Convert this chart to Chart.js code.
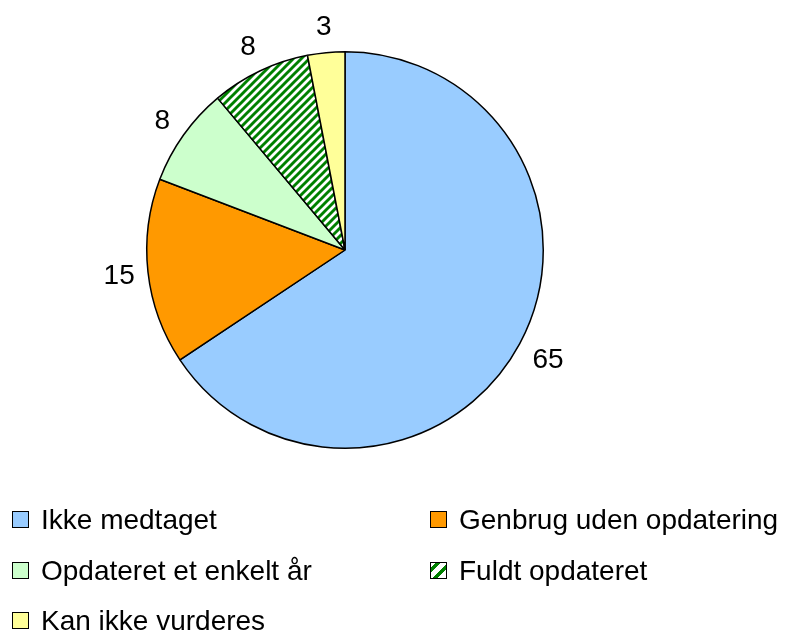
<!DOCTYPE html>
<html>
<head>
<meta charset="utf-8">
<script src="https://cdn.jsdelivr.net/npm/chart.js@4"></script>
<style>
  html, body { margin: 0; padding: 0; background: #fff; }
  #wrap { position: relative; width: 795px; height: 630px; }
  #legend { position: absolute; left: 0; top: 0; width: 795px; height: 630px; pointer-events: none;
            font: 28px "Liberation Sans", Arial, sans-serif; color: #000; }
  .box { position: absolute; width: 15px; height: 15px; border: 1.5px solid #000; }
  .lbl { position: absolute; line-height: 28px; white-space: nowrap; }
</style>
</head>
<body>
<div id="wrap">
  <canvas id="pie"></canvas>
  <div id="legend"></div>
</div>
<script>
const categories = ['Ikke medtaget', 'Genbrug uden opdatering', 'Opdateret et enkelt år', 'Fuldt opdateret', 'Kan ikke vurderes'];
const values     = [65, 15, 8, 8, 3];
const colors     = ['#99CCFF', '#FF9900', '#CCFFCC', 'stripes', '#FFFF99'];

const STRIPE_GREEN = '#008000';

function stripePattern() {
  const s = 8;
  const c = document.createElement('canvas');
  c.width = s; c.height = s;
  const g = c.getContext('2d');
  g.fillStyle = '#fff';
  g.fillRect(0, 0, s, s);
  g.strokeStyle = STRIPE_GREEN;
  g.lineWidth = 2.9;
  g.beginPath();
  g.moveTo(-2, s + 2); g.lineTo(s + 2, -2);
  g.moveTo(-2, 2); g.lineTo(2, -2);
  g.moveTo(s - 2, s + 2); g.lineTo(s + 2, s - 2);
  g.stroke();
  return g.createPattern(c, 'repeat');
}

const ctx = document.getElementById('pie');
const fills = colors.map(c => c === 'stripes' ? stripePattern() : c);

// value labels outside the slices, pushed out by the text box size
const outsideLabels = {
  id: 'outsideLabels',
  afterDatasetsDraw(chart) {
    const g = chart.ctx;
    const meta = chart.getDatasetMeta(0);
    g.save();
    g.font = '28px "Liberation Sans", Arial, sans-serif';
    g.fillStyle = '#000';
    g.textAlign = 'center';
    g.textBaseline = 'middle';
    meta.data.forEach((arc, i) => {
      const p = arc.getProps(['x', 'y', 'startAngle', 'endAngle', 'outerRadius'], true);
      const a = (p.startAngle + p.endAngle) / 2;
      const txt = String(values[i]);
      const w = g.measureText(txt).width;
      const h = 27;
      const r = p.outerRadius + 12 + Math.abs(Math.cos(a)) * w / 2 + Math.abs(Math.sin(a)) * h / 2;
      g.fillText(txt, p.x + Math.cos(a) * r, p.y + Math.sin(a) * r + 1);
    });
    g.restore();
  }
};

new Chart(ctx, {
  type: 'pie',
  data: {
    labels: categories,
    datasets: [{
      data: values,
      backgroundColor: fills,
      borderColor: '#000',
      borderWidth: 1.5,
    }]
  },
  options: {
    responsive: true,
    maintainAspectRatio: false,
    animation: false,
    layout: { padding: { left: 146, right: 251, top: 51, bottom: 181 } },
    plugins: { legend: { display: false }, tooltip: { enabled: false } },
  },
  plugins: [outsideLabels]
});

// legend, two columns
const legend = document.getElementById('legend');
const colX = [12, 430];
const rowY = [511, 561.5, 612];
categories.forEach((name, i) => {
  const col = i % 2, row = Math.floor(i / 2);
  const x = colX[col], y = rowY[row];
  const box = document.createElement('div');
  box.className = 'box';
  box.style.left = x + 'px';
  box.style.top = y + 'px';
  box.style.background = colors[i] === 'stripes'
    ? `repeating-linear-gradient(135deg, #fff 0 3px, ${STRIPE_GREEN} 3px 6.5px, #fff 6.5px 9px)`
    : colors[i];
  const lbl = document.createElement('div');
  lbl.className = 'lbl';
  lbl.textContent = name;
  lbl.style.left = (x + 29) + 'px';
  lbl.style.top = (y - 5) + 'px';
  legend.appendChild(box);
  legend.appendChild(lbl);
});
</script>
</body>
</html>
